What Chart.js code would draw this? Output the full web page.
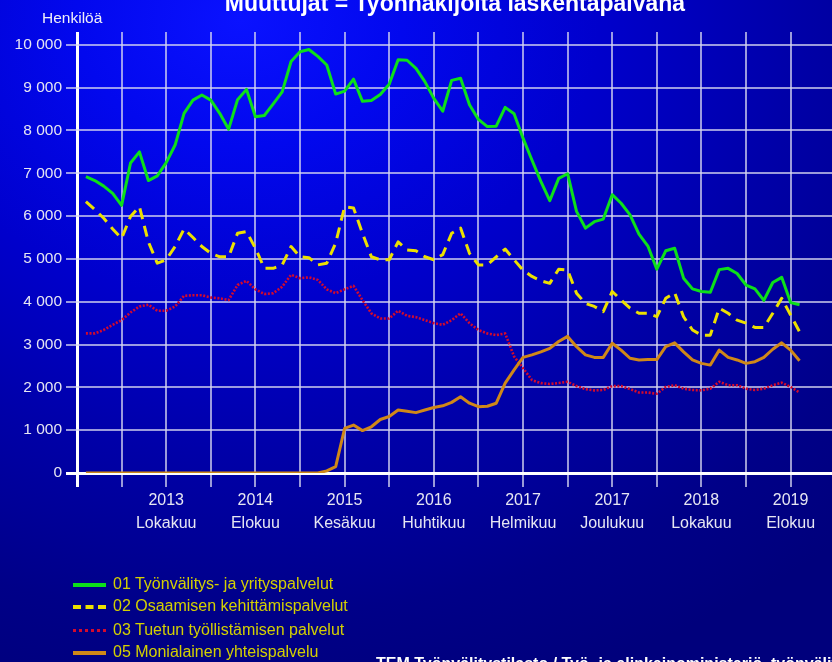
<!DOCTYPE html>
<html>
<head>
<meta charset="utf-8">
<script src="https://cdn.jsdelivr.net/npm/chart.js@4.4.1/dist/chart.umd.min.js"></script>
<style>
  html,body{margin:0;padding:0;}
  body{width:832px;height:662px;overflow:hidden;
    background: radial-gradient(ellipse 900px 700px at 240px 20px, #0a12ff 0%, #0208ee 18%, #0000cc 40%, #0000a8 62%, #000088 85%, #00007c 100%);
    font-family:"Liberation Sans", Arial, sans-serif;}
  #wrap{position:relative;width:832px;height:662px;}
  #c{position:absolute;left:0;top:0;}
  .t{position:absolute;white-space:nowrap;}
  #title{left:0;width:910px;text-align:center;top:-8px;font-size:23px;line-height:23px;font-weight:bold;color:#fff;}
  #unit{left:42px;top:10px;font-size:15.5px;line-height:16px;color:#f0f0f8;}
  #foot{left:376px;top:656px;font-size:16px;line-height:16px;font-weight:bold;color:#fff;}
  .leg{position:absolute;left:73px;height:20px;font-size:16px;color:#d4d000;line-height:20px;}
  .leg span.sw{position:absolute;left:0;top:9px;width:33px;height:0;}
  .leg span.tx{position:absolute;left:40px;top:0;white-space:nowrap;}
</style>
</head>
<body>
<div id="wrap">
  <canvas id="c" width="832" height="662"></canvas>
  <div class="t" id="title">Muuttujat = Työnhakijoita laskentapäivänä</div>
  <div class="t" id="unit">Henkilöä</div>
  <div id="legend"></div>
  <div class="t" id="foot">TEM Työnvälitystilasto / Työ- ja elinkeinoministeriö, työnvälitystilasto</div>
</div>
<script>
// Monthly data Jan 2013 – Sep 2019
const startYear = 2013, startMonth = 1;
const monthNames = ["Tammikuu","Helmikuu","Maaliskuu","Huhtikuu","Toukokuu","Kesäkuu","Heinäkuu","Elokuu","Syyskuu","Lokakuu","Marraskuu","Joulukuu"];

const seriesNames = [
  "01 Työnvälitys- ja yrityspalvelut",
  "02 Osaamisen kehittämispalvelut",
  "03 Tuetun työllistämisen palvelut",
  "05 Monialainen yhteispalvelu"
];

const tyonvalitys = [6920,6830,6700,6530,6250,7240,7500,6830,6940,7250,7660,8400,8710,8830,8710,8400,8030,8720,8960,8320,
  8350,8620,8900,9610,9840,9890,9730,9530,8850,8920,9200,8680,8700,8840,9080,9650,9640,9450,9140,8750,
  8450,9170,9220,8600,8260,8090,8100,8540,8390,7820,7310,6810,6360,6880,6990,6110,5720,5870,5930,6500,
  6300,6030,5580,5300,4760,5190,5250,4550,4300,4240,4220,4750,4780,4660,4390,4300,4030,4450,4570,3980,3930];

const osaaminen = [6340,6150,5950,5700,5480,5990,6220,5400,4900,4980,5290,5700,5500,5290,5130,5050,5050,5600,5640,5250,
  4780,4780,4860,5290,5050,5030,4860,4900,5370,6220,6190,5600,5050,4980,4980,5400,5210,5190,5050,4980,
  5100,5600,5720,5130,4860,4860,5050,5230,4980,4740,4590,4490,4430,4760,4740,4200,3960,3890,3770,4240,
  4040,3850,3730,3730,3650,4080,4210,3650,3340,3220,3220,3850,3730,3570,3500,3400,3400,3730,4080,3690,3300];

const tuettu = [3260,3260,3340,3460,3570,3750,3890,3930,3790,3790,3890,4140,4150,4150,4100,4080,4040,4390,4490,4290,
  4180,4200,4350,4630,4550,4570,4510,4290,4200,4290,4370,4040,3730,3610,3610,3790,3670,3640,3570,3500,
  3460,3570,3730,3500,3340,3260,3220,3260,2720,2450,2170,2100,2080,2100,2130,2030,1960,1930,1940,2030,
  2030,1960,1880,1880,1850,2010,2050,1970,1940,1930,1970,2130,2050,2050,1970,1940,1970,2050,2110,2010,1880];

const monialainen = [0,0,0,0,0,0,0,0,0,0,0,0,0,0,0,0,0,0,0,0,
  0,0,0,0,0,0,0,50,150,1040,1120,990,1080,1250,1320,1470,1440,1410,1470,1530,
  1570,1650,1780,1630,1550,1560,1630,2100,2410,2700,2760,2830,2910,3070,3190,2950,2760,2700,2700,3030,
  2870,2680,2640,2650,2650,2950,3040,2830,2640,2560,2520,2870,2700,2640,2560,2600,2700,2890,3040,2870,2620];

const yTicks = [0,1000,2000,3000,4000,5000,6000,7000,8000,9000,10000];

// month labels (categories)
const months = tyonvalitys.map((_, i) => {
  const m = (startMonth - 1 + i);
  return (startYear + Math.floor(m / 12)) + "-" + String(m % 12 + 1).padStart(2, "0");
});

// x value: months since Dec 2012 (Jan 2013 = 1)
const toPoints = arr => arr.map((v, i) => ({x: i + 1, y: v, label: months[i]}));

function xLabel(v) {
  if (v <= 0 || v % 10 !== 0) return "";
  const m = (startMonth - 2 + v); // Dec 2012 = 0
  const y = startYear + Math.floor(m / 12);
  return [String(y), monthNames[((m % 12) + 12) % 12]];
}
function yLabel(v) {
  if (v === 0) return "0";
  const th = Math.floor(v / 1000), rest = v % 1000;
  return th + " " + String(rest).padStart(3, "0");
}

const colors = ["#0de01a", "#ece000", "#d40a2c", "#d08818"];
const dashes = [[], [11, 7], [2, 1.6], []];
const widths = [3, 3, 2.6, 3];

const gridCol = "rgba(215,215,240,0.72)";
const fontFam = "'Liberation Sans', Arial, sans-serif";

new Chart(document.getElementById("c"), {
  type: "line",
  data: {
    datasets: [tyonvalitys, osaaminen, tuettu, monialainen].map((arr, k) => ({
      label: seriesNames[k],
      data: toPoints(arr),
      borderColor: colors[k],
      borderWidth: widths[k],
      borderDash: dashes[k],
      pointRadius: 0,
      tension: 0,
      fill: false,
      borderJoinStyle: "round",
      order: 4 - k
    }))
  },
  options: {
    responsive: false,
    animation: false,
    layout: {padding: {top: 32, left: 0, right: 0, bottom: 0}},
    plugins: {legend: {display: false}, tooltip: {enabled: false}},
    scales: {
      x: {
        type: "linear",
        min: 0,
        max: 84.64,
        afterFit: s => { s.height = 189; },
        afterBuildTicks: s => {
          const t = [];
          for (let v = 0; v <= 80; v += 5) t.push({value: v});
          s.ticks = t;
        },
        border: {display: false},
        grid: {
          color: c => (c.tick && c.tick.value === 0) ? "#ffffff" : gridCol,
          lineWidth: c => (c.tick && c.tick.value === 0) ? 3 : 2,
          tickLength: 14,
          drawTicks: true
        },
        ticks: {
          autoSkip: false,
          maxRotation: 0,
          padding: 3,
          color: "#e6e6f2",
          font: {family: fontFam, size: 16, lineHeight: 1.38},
          callback: v => xLabel(v)
        }
      },
      y: {
        min: 0,
        max: 10300,
        afterFit: s => { s.width = 77; },
        afterBuildTicks: s => { s.ticks = yTicks.map(v => ({value: v})); },
        border: {display: false},
        grid: {
          color: c => (c.tick && c.tick.value === 0) ? "#ffffff" : gridCol,
          lineWidth: c => (c.tick && c.tick.value === 0) ? 3 : 2,
          tickLength: 11
        },
        ticks: {
          padding: 4,
          color: "#e6e6f2",
          font: {family: fontFam, size: 15.5},
          callback: v => yLabel(v)
        }
      }
    }
  }
});

// legend (HTML text)
const legTops = [574, 596, 620, 642];
const swStyles = [
  "border-top:4px solid " + colors[0],
  "border-top:4px dashed " + colors[1],
  "border-top:3px dotted " + colors[2],
  "border-top:4px solid " + colors[3]
];
const lg = document.getElementById("legend");
seriesNames.forEach((n, k) => {
  const d = document.createElement("div");
  d.className = "leg";
  d.style.top = legTops[k] + "px";
  d.innerHTML = '<span class="sw" style="' + swStyles[k] + '"></span><span class="tx"></span>';
  d.querySelector(".tx").textContent = n;
  lg.appendChild(d);
});
</script>
</body>
</html>
